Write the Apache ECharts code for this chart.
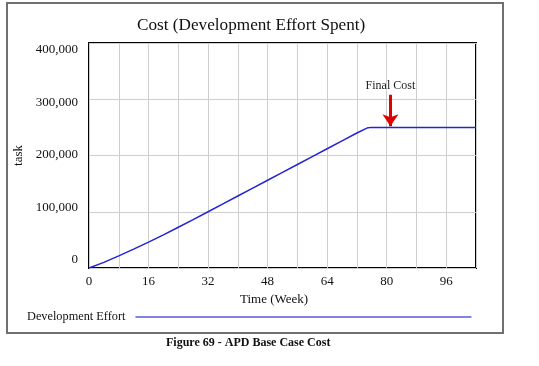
<!DOCTYPE html>
<html>
<head>
<meta charset="utf-8">
<script src="https://cdn.jsdelivr.net/npm/echarts@6/dist/echarts.min.js"></script>
<style>html,body{margin:0;padding:0;background:#fff}#c{width:539px;height:366px}</style>
</head>
<body>
<div id="c"></div>
<script>
// Data
var weeks = [0, 4, 8, 12, 16, 20, 24, 28, 32, 36, 40, 44, 48, 52, 56, 60, 64, 68, 72, 74, 75, 76, 80, 88, 96, 104];
var developmentEffort = [0, 10000, 21500, 33500, 46000, 59000, 72500, 86000, 100000, 114000, 128000, 142000, 156000, 170000, 184000, 198000, 212000, 226000, 240000, 246500, 249500, 250000, 250000, 250000, 250000, 250000];
var yTickValues = [0, 100000, 200000, 300000, 400000];
var xLabelStep = 16;
var finalCostWeek = 81;
var finalCostArrowTop = 308000;
var finalCostArrowTip = 252000;

var seriesData = weeks.map(function (w, i) { return [w, developmentEffort[i]]; });
var serif = '"Liberation Serif", "Times New Roman", serif';

var chart = echarts.init(document.getElementById('c'), null, { renderer: 'canvas' });
chart.setOption({
  animation: false,
  backgroundColor: '#fff',
  title: {
    text: 'Cost (Development Effort Spent)',
    left: 132, top: 12,
    textStyle: { fontFamily: serif, fontSize: 17.2, fontWeight: 'normal', color: '#111' }
  },
  grid: { left: 89, right: 63, top: 43, bottom: 98, show: true, borderColor: '#000', borderWidth: 2, backgroundColor: 'transparent' },
  legend: {
    left: 27, top: 311, padding: 0,
    align: 'right',
    icon: 'rect',
    itemWidth: 336, itemHeight: 1.5,
    textStyle: { fontFamily: serif, fontSize: 12.3, color: '#111', padding: [0, 5, 0, 0] },
    data: [{ name: 'Development Effort', itemStyle: { color: '#5a5ad6' } }]
  },
  xAxis: {
    type: 'value', min: 0, max: 104, interval: 8,
    name: 'Time (Week)', nameLocation: 'middle', nameGap: 25,
    nameTextStyle: { fontFamily: serif, fontSize: 13, color: '#111', padding: [0, 17, 0, 0] },
    axisLine: { show: false }, axisTick: { show: false },
    axisLabel: {
      fontFamily: serif, fontSize: 13, color: '#111', margin: 7,
      formatter: function (v) { return v % xLabelStep === 0 && v <= 96 ? String(v) : ''; }
    },
    splitLine: { show: true, lineStyle: { color: '#cfcfcf', width: 1 } }
  },
  yAxis: [{
    type: 'value', min: 0, max: 400000, interval: 100000,
    axisLine: { show: false }, axisTick: { show: false }, axisLabel: { show: false },
    splitLine: { show: true, lineStyle: { color: '#cfcfcf', width: 1 } }
  }, {
    type: 'value', min: -15238, max: 413333, position: 'left',
    name: 'task', nameLocation: 'middle', nameGap: 63, nameRotate: 90,
    nameTextStyle: { fontFamily: serif, fontSize: 13, color: '#111' },
    axisLine: { show: false }, axisTick: { show: false },
    splitLine: { show: false },
    axisLabel: {
      customValues: yTickValues,
      fontFamily: serif, fontSize: 13, color: '#111', margin: 11,
      formatter: function (v) { return v.toLocaleString('en-US'); }
    }
  }],
  series: [{
    name: 'Development Effort',
    type: 'line',
    data: seriesData,
    yAxisIndex: 0,
    showSymbol: false,
    lineStyle: { color: '#2424d4', width: 1.5 },
    itemStyle: { color: '#2424d4' },
    markLine: {
      silent: true,
      symbol: ['none', 'arrow'],
      symbolSize: [12, 12],
      lineStyle: { color: '#e00000', width: 3, type: 'solid' },
      label: {
        show: true, position: 'start', distance: 3,
        formatter: 'Final Cost',
        fontFamily: serif, fontSize: 12, color: '#222'
      },
      data: [[{ coord: [finalCostWeek, finalCostArrowTop] }, { coord: [finalCostWeek, finalCostArrowTip] }]]
    }
  }],
  graphic: [
    { type: 'rect', shape: { x: 7, y: 3, width: 496, height: 330 }, style: { fill: 'none', stroke: '#707070', lineWidth: 2 }, silent: true, z: -1 },
    { type: 'text', left: 166, top: 337, style: { text: 'Figure 69 - APD Base Case Cost', font: 'bold 12px ' + serif, fill: '#111' } }
  ]
});
</script>
</body>
</html>
